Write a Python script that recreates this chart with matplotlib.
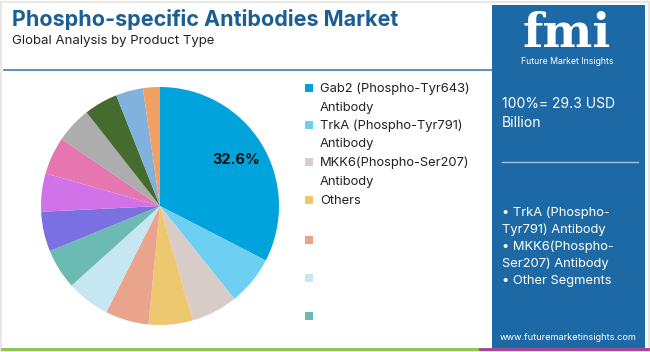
import matplotlib
matplotlib.use("Agg")
import matplotlib.pyplot as plt
from matplotlib.patches import Rectangle
from matplotlib.lines import Line2D

# ---------------- data ----------------
segments = ["Gab2 (Phospho-Tyr643)\nAntibody", "TrkA (Phospho-Tyr791)\nAntibody",
            "MKK6(Phospho-Ser207)\nAntibody", "Others", "", "", "",
            "", "", "", "", "", "", ""]
shares = [32.6, 6.7, 6.3, 6.0, 5.9, 5.9, 5.5, 5.4, 5.2, 5.1, 4.9, 4.6, 3.7, 2.3]
colors = ["#00A3DB", "#6DCFF1", "#D8CCC7", "#EDC86E", "#EAA48B", "#C6E7F1",
          "#6CBBB2", "#7B70E2", "#D172E8", "#E676AF", "#ADADAD", "#456B2F",
          "#80B2DD", "#F0A062"]
legend_count = 7
title = "Phospho-specific Antibodies Market"
subtitle = "Global Analysis by Product Type"
total_text = ["100%= 29.3 USD", "Billion"]
bullets = ["• TrkA (Phospho-", "Tyr791) Antibody", "• MKK6(Phospho-",
           "Ser207) Antibody", "• Other Segments"]
website = "www.futuremarketinsights.com"

W, H = 650, 352
fig = plt.figure(figsize=(6.5, 3.52), dpi=100)
fig.patch.set_facecolor("white")
FONT = "Inter"

def fx(px):
    return px / W

def fy(py):
    return 1 - py / H

# outer light border
fig.add_artist(Rectangle((fx(1), fy(351)), fx(648), 349 / H, transform=fig.transFigure,
                         fill=False, edgecolor="#E3E3E3", lw=1.2))

# title
fig.text(fx(12), fy(19), title, fontsize=15.5, fontweight="bold", color="#1B5E92",
         va="center", ha="left", family=FONT)
fig.text(fx(12), fy(41), subtitle, fontsize=9.5, color="#222222",
         va="center", ha="left", family=FONT)
# separator line under title
fig.add_artist(Line2D([fx(4), fx(492)], [fy(70), fy(70)], transform=fig.transFigure,
                      color="#3B7FB0", lw=1.2))
# bottom line
fig.add_artist(Line2D([fx(2), fx(480)], [fy(349), fy(349)], transform=fig.transFigure,
                      color="#8DC04E", lw=2))
fig.add_artist(Line2D([fx(480), fx(648)], [fy(349), fy(349)], transform=fig.transFigure,
                      color="#A0408F", lw=2))

# ---------------- pie ----------------
r = 119
cx, cy = 160, 206
ax = fig.add_axes([fx(cx - r), fy(cy + r), 2 * r / W, 2 * r / H])
wedges, texts, autotexts = ax.pie(shares, colors=colors, startangle=90, counterclock=False,
                                  autopct="%1.1f%%", pctdistance=0.75,
                                  wedgeprops=dict(linewidth=0),
                                  textprops=dict(fontsize=10.5, fontweight="bold",
                                                 color="#111111", family=FONT))
for i, t in enumerate(autotexts):
    if i != 0:
        t.set_visible(False)
ax.set_xlim(-1, 1)
ax.set_ylim(-1, 1)
ax.set_aspect("equal")
ax.axis("off")

# ---------------- legend ----------------
leg_y = [88, 125, 162, 200, 240, 278, 316]
for i in range(legend_count):
    y = leg_y[i]
    fig.add_artist(Rectangle((fx(305), fy(y + 4)), fx(8), 8 / H, transform=fig.transFigure,
                             facecolor=colors[i], edgecolor="none"))
    if segments[i]:
        lines = segments[i].split("\n")
        for j, ln in enumerate(lines):
            fig.text(fx(320), fy(y + 0.5 + 19 * j), ln, fontsize=9.3,
                     color="#222222", va="center", ha="left", family=FONT)

# ---------------- right panel ----------------
fig.add_artist(Rectangle((fx(492), fy(348)), fx(153), 343 / H, transform=fig.transFigure,
                         facecolor="#1D69A5", edgecolor="none"))
# logo
fig.text(fx(567), fy(34), "fmi", fontsize=34, fontweight="bold", color="white",
         family="DejaVu Serif", ha="center", va="center")
fig.text(fx(567), fy(61), "Future Market Insights", fontsize=6.3, color="white",
         family=FONT, ha="center", va="center")
fig.text(fx(502), fy(104), total_text[0], fontsize=10, color="white", family=FONT,
         ha="left", va="center")
fig.text(fx(502), fy(123), total_text[1], fontsize=10, color="white", family=FONT,
         ha="left", va="center")
fig.add_artist(Line2D([fx(502), fx(638)], [fy(162), fy(162)], transform=fig.transFigure,
                      color="#9FC3E0", lw=1))
for i, b in enumerate(bullets):
    fig.text(fx(502), fy(213 + i * 17), b, fontsize=9.3, color="white", family=FONT,
             ha="left", va="center")
fig.text(fx(568), fy(337), website, fontsize=6.6, color="white", family=FONT,
         ha="center", va="center")

fig.savefig("out.png", dpi=100, facecolor="white")
